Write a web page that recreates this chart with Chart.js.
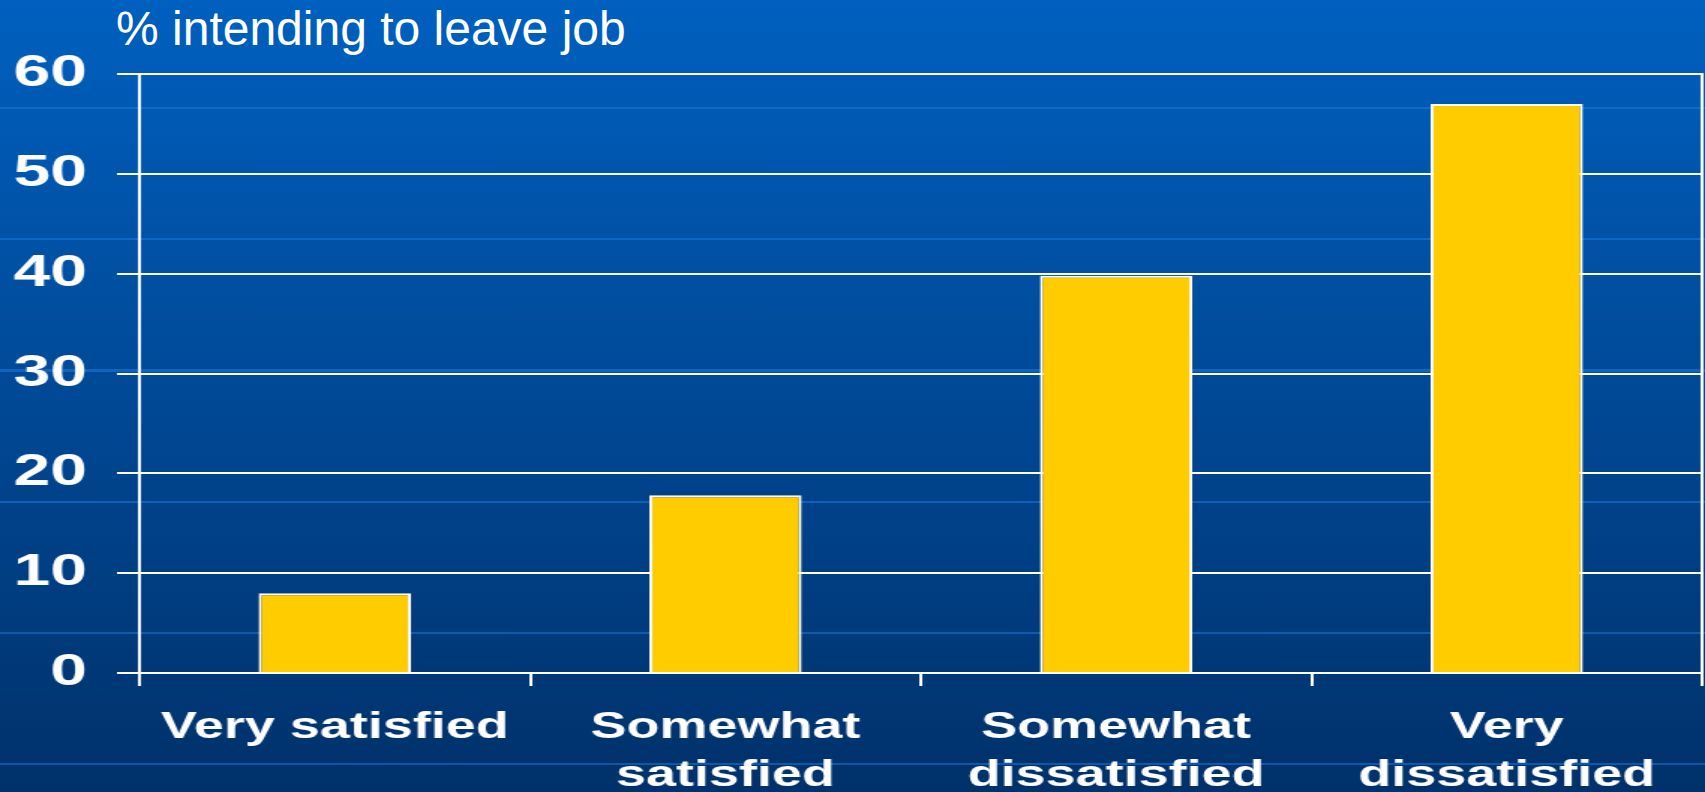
<!DOCTYPE html>
<html>
<head>
<meta charset="utf-8">
<script src="https://cdn.jsdelivr.net/npm/chart.js@4/dist/chart.umd.min.js"></script>
<style>
  html, body { margin:0; padding:0; }
  body {
    width:1705px; height:792px; overflow:hidden; position:relative;
    background:
      repeating-linear-gradient(to bottom, rgba(0,0,0,0) 0px, rgba(0,0,0,0) 129px, rgba(30,125,225,0.5) 129px, rgba(30,125,225,0.5) 131.2px),
      linear-gradient(to bottom, #0060BF 0%, #004B9A 45%, #00316A 100%);
    background-position: 0 -22px, 0 0;
    font-family: "Liberation Sans", Arial, sans-serif;
  }
  #title {
    position:absolute; left:116px; top:5px; margin:0;
    font-family: "Liberation Sans", Arial, sans-serif;
    font-size:48px; line-height:48px; color:#ffffff; white-space:nowrap; font-weight:normal;
  }
  #wrap {
    position:absolute; left:0; top:0; width:1137px; height:792px;
    transform: scaleX(1.4996); transform-origin: 0 0;
  }
</style>
</head>
<body>
<div id="title">% intending to leave job</div>
<div id="wrap"><canvas id="c"></canvas></div>
<script>
const categories = ["Very satisfied", ["Somewhat", "satisfied"], ["Somewhat", "dissatisfied"], ["Very", "dissatisfied"]];
const values = [8, 17.8, 39.8, 57];
const yMin = 0;
const yMax = 60;
const yStep = 10;

new Chart(document.getElementById('c'), {
  type: 'bar',
  data: {
    labels: categories,
    datasets: [{
      data: values,
      backgroundColor: '#FFCC00',
      borderColor: '#FFFFFF',
      borderWidth: 2,
      barPercentage: 0.39,
      categoryPercentage: 1
    }]
  },
  options: {
    responsive: true,
    maintainAspectRatio: false,
    animation: false,
    layout: { padding: { top: 74, right: 2, left: 0, bottom: 0 } },
    plugins: { legend: { display: false }, tooltip: { enabled: false }, title: { display: false } },
    scales: {
      x: {
        offset: true,
        grid: { display: true, offset: true, drawOnChartArea: false, drawTicks: true, tickLength: 13, color: '#FFFFFF', lineWidth: 2 },
        border: { display: true, color: '#FFFFFF', width: 2 },
        ticks: {
          color: '#FFFFFF', autoSkip: false, maxRotation: 0, minRotation: 0, padding: 18,
          font: { family: '"Liberation Sans", Arial, sans-serif', size: 36, weight: 'bold', lineHeight: 1.34 }
        },
        afterFit: (s) => { s.height = 119; }
      },
      y: {
        min: yMin, max: yMax,
        grid: { color: '#FFFFFF', lineWidth: 2, drawTicks: true, tickLength: 15 },
        border: { display: true, color: '#FFFFFF', width: 2 },
        ticks: {
          stepSize: yStep, color: '#FFFFFF', padding: 20,
          font: { family: '"Liberation Sans", Arial, sans-serif', size: 44, weight: 'bold' }
        },
        afterFit: (s) => { s.width = 93; }
      },
      yRight: {
        position: 'right', min: yMin, max: yMax,
        grid: { display: false, drawTicks: false },
        border: { display: true, color: '#FFFFFF', width: 2 },
        ticks: { display: false },
        afterFit: (s) => { s.width = 0; }
      }
    }
  }
});
</script>
</body>
</html>
